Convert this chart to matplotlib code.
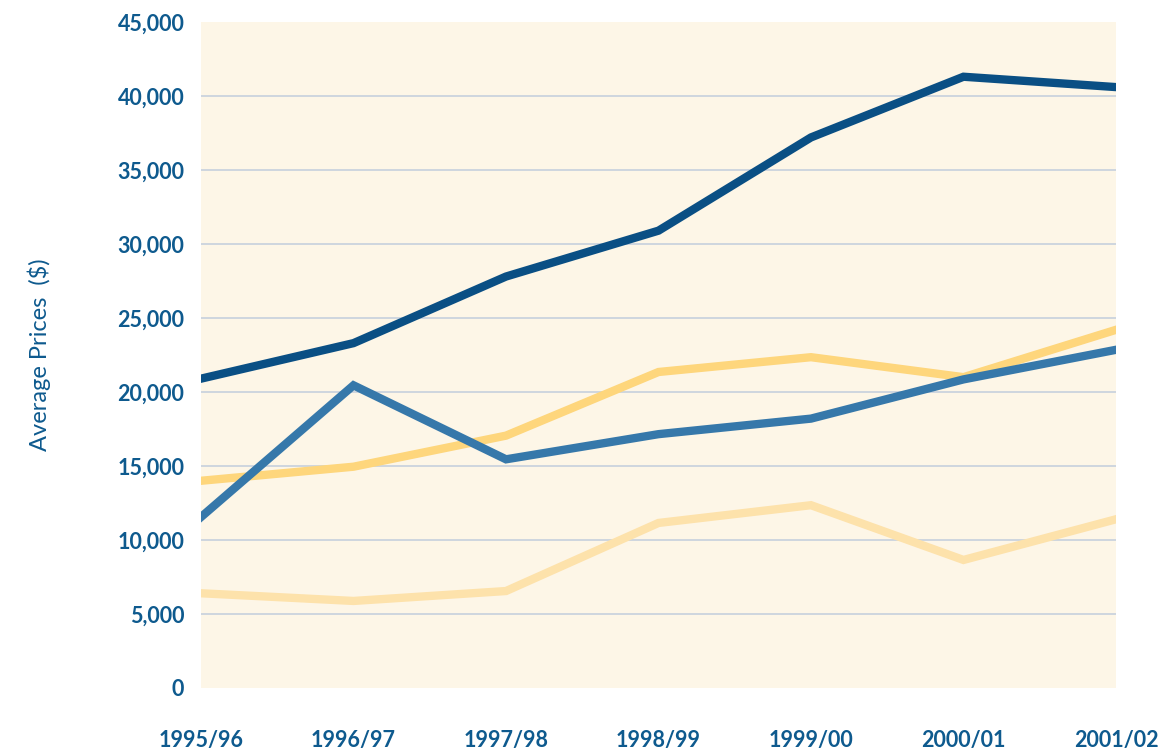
import matplotlib
matplotlib.use("Agg")
import matplotlib.pyplot as plt
from matplotlib.ticker import FuncFormatter

# season labels along the x axis
seasons = ["1995/96", "1996/97", "1997/98", "1998/99", "1999/00", "2000/01", "2001/02"]

# average prices ($)
series_dark   = [20900, 23300, 27800, 30900, 37200, 41300, 40600]
series_mid    = [11550, 20450, 15450, 17150, 18200, 20850, 22850]
series_yellow = [14000, 14950, 17050, 21350, 22350, 21000, 24200]
series_pale   = [6400, 5880, 6550, 11150, 12350, 8650, 11400]

y_ticks = [0, 5000, 10000, 15000, 20000, 25000, 30000, 35000, 40000, 45000]

TEXT_BLUE = "#0e5a8e"

plt.rcParams['font.family'] = ['Lato', 'DejaVu Sans']

fig = plt.figure(figsize=(11.66, 7.5), dpi=100)
ax = fig.add_axes([0.1724, 0.0827, 0.7847, 0.888])
ax.set_facecolor("#fdf6e7")

x = list(range(len(seasons)))
lw = 6.0
ax.plot(x, series_pale, color="#fde2ab", lw=lw, solid_joinstyle="miter", zorder=3)
ax.plot(x, series_yellow, color="#fed67c", lw=lw, solid_joinstyle="miter", zorder=4)
ax.plot(x, series_mid, color="#3678aa", lw=lw, solid_joinstyle="miter", zorder=5)
ax.plot(x, series_dark, color="#0a4f84", lw=lw, solid_joinstyle="miter", zorder=6)

ax.set_xlim(0, len(seasons) - 1)
ax.set_ylim(0, 45000)
ax.set_yticks(y_ticks)
ax.yaxis.set_major_formatter(FuncFormatter(lambda v, p: f"{int(v):,}"))
ax.set_xticks(x)
ax.set_xticklabels(seasons)

for v in y_ticks[1:-1]:
    ax.axhline(v, color="#c6d0dd", lw=1.2, zorder=1)

for s in ax.spines.values():
    s.set_visible(False)
ax.tick_params(axis="both", length=0, colors=TEXT_BLUE, labelsize=15.5)
ax.tick_params(axis="y", pad=12)
ax.tick_params(axis="x", pad=30)
for lab in ax.get_xticklabels() + ax.get_yticklabels():
    lab.set_fontweight("bold")

ax.set_ylabel("Average Prices  ($)", color=TEXT_BLUE, fontsize=17, labelpad=48)

fig.savefig("out.png", dpi=100)
